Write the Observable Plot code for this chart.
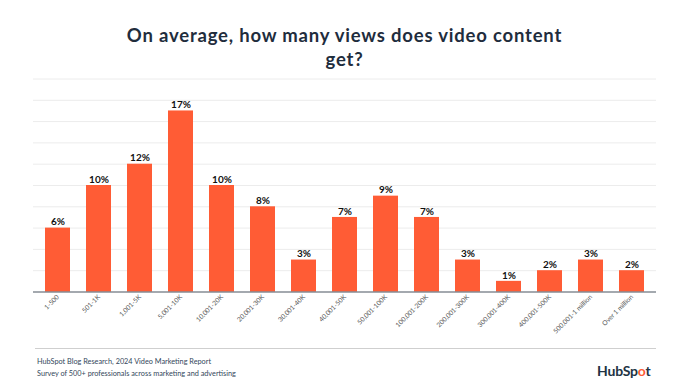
<!DOCTYPE html>
<html>
<head>
<meta charset="utf-8">
<script src="https://cdn.jsdelivr.net/npm/d3@7"></script>
<script src="https://cdn.jsdelivr.net/npm/@observablehq/plot@0.6"></script>
<style>
  html, body { margin: 0; padding: 0; background: #fff; }
  #wrap { position: relative; width: 689px; height: 389px; overflow: hidden; font-family: Lato, "Noto Sans", sans-serif; }
  #title { position: absolute; left: 0; top: 23px; width: 689px; text-align: center; font-weight: 700; font-size: 18.5px; line-height: 24px; color: #1f2d3d; letter-spacing: 0.8px; }
  #chart { position: absolute; left: 0; top: 0; }
  #rule { position: absolute; left: 35px; top: 348px; width: 621px; height: 1px; background: #cfcfcf; }
  #foot { position: absolute; left: 37px; top: 356px; font-size: 7.3px; line-height: 12px; color: #33475b; }
  #logo { position: absolute; left: 597px; top: 362px; font-size: 14px; font-weight: 700; color: #213343; letter-spacing: -0.2px; }
  #logo .o { color: #ff5c35; }
</style>
</head>
<body>
<div id="wrap">
  <div id="chart"></div>
  <div id="title">On average, how many views does video content<br>get?</div>
  <div id="rule"></div>
  <div id="foot">HubSpot Blog Research, 2024 Video Marketing Report<br>Survey of 500+ professionals across marketing and advertising</div>
  <div id="logo">HubSp<span class="o">o</span>t</div>
</div>
<script>
const categories = ["1-500","501-1K","1,001-5K","5,001-10K","10,001-20K","20,001-30K","30,001-40K","40,001-50K","50,001-100K","100,001-200K","200,001-300K","300,001-400K","400,001-500K","500,001-1 million","Over 1 million"];
const values = [6,10,12,17,10,8,3,7,9,7,3,1,2,3,2];
const gridTicks = [2,4,6,8,10,12,14,16,18,20];

const data = categories.map((c, i) => ({category: c, value: values[i]}));

const chart = Plot.plot({
  width: 689,
  height: 345,
  marginTop: 78.5,
  marginBottom: 53.5,
  marginLeft: 33,
  marginRight: 33,
  style: {fontFamily: "Lato, 'Noto Sans', sans-serif", background: "transparent"},
  x: {domain: categories, paddingInner: 0.4, paddingOuter: 0.2, label: null},
  y: {domain: [0, 20], axis: null},
  marks: [
    Plot.ruleY(gridTicks, {stroke: "#ececec", strokeWidth: 1}),
    Plot.barY(data, {x: "category", y: "value", fill: "#ff5c35"}),
    Plot.ruleY([0], {stroke: "#4a5560", strokeWidth: 1.2}),
    Plot.text(data, {x: "category", y: "value", text: d => d.value + "%", dy: -6, fontSize: 10, fontWeight: 700, fill: "#111"}),
    Plot.axisX({tickRotate: -45, tickSize: 0, tickPadding: 4, fontSize: 6.6, fill: "#555", label: null})
  ]
});
document.getElementById("chart").appendChild(chart);
</script>
</body>
</html>
